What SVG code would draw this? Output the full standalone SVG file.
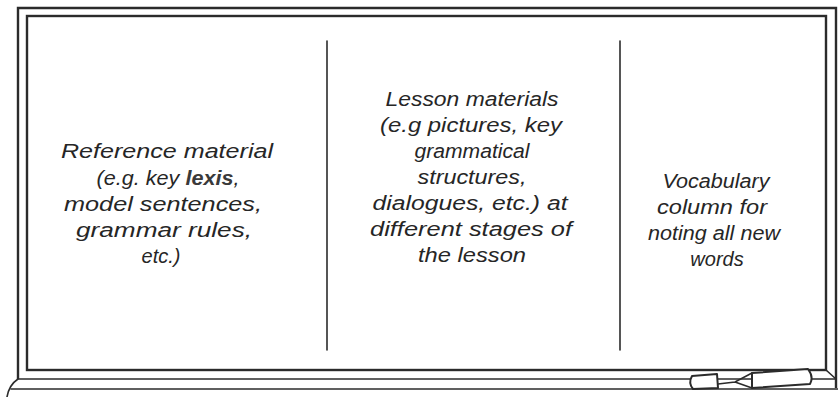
<svg xmlns="http://www.w3.org/2000/svg" width="838" height="397" viewBox="0 0 838 397">
  <style>
    .frame { fill: none; stroke: #2b2b2b; stroke-width: 2.4; }
    .line { fill: none; stroke: #2b2b2b; stroke-width: 1.6; stroke-linecap: round; }
    .pen { fill: #ffffff; stroke: #2b2b2b; stroke-width: 2; stroke-linejoin: round; }
    .hand { font-family: "Liberation Sans", "DejaVu Sans", sans-serif; font-style: italic; font-size: 20px; fill: #262626; text-anchor: middle; }
    .bold { font-weight: bold; fill: #3a3a3a; }
  </style>

  <rect x="0" y="0" width="838" height="397" fill="#ffffff"/>

  <!-- whiteboard frame: outer and inner border -->
  <g id="board">
    <path class="frame" d="M18 379 L18 8 L836 8 L836 388"/>
    <rect class="frame" x="27" y="16" width="799" height="354"/>
    <path class="line" d="M826 370 L836 379"/>
    <path class="line" d="M18 379 L836 379"/>
  </g>

  <!-- pen ledge along the bottom -->
  <g id="ledge">
    <path class="line" d="M7 397 Q9 385 18 379"/>
    <path class="line" d="M11 389 L838 389"/>
  </g>

  <!-- column dividers -->
  <g id="dividers">
    <line class="line" x1="327" y1="41" x2="327" y2="350"/>
    <line class="line" x1="620" y1="41" x2="620" y2="350"/>
  </g>

  <!-- left column -->
  <g id="reference-column">
    <text class="hand" x="167" y="158" textLength="212" lengthAdjust="spacingAndGlyphs">Reference material</text>
    <text class="hand" x="168" y="185" textLength="143" lengthAdjust="spacingAndGlyphs">(e.g. key <tspan class="bold">lexis</tspan>,</text>
    <text class="hand" x="163" y="211" textLength="198" lengthAdjust="spacingAndGlyphs">model sentences,</text>
    <text class="hand" x="164" y="237" textLength="176" lengthAdjust="spacingAndGlyphs">grammar rules,</text>
    <text class="hand" x="161" y="263">etc.)</text>
  </g>

  <!-- middle column -->
  <g id="lesson-column">
    <text class="hand" x="472" y="106" textLength="173" lengthAdjust="spacingAndGlyphs">Lesson materials</text>
    <text class="hand" x="471" y="132" textLength="182" lengthAdjust="spacingAndGlyphs">(e.g pictures, key</text>
    <text class="hand" x="472" y="158" textLength="115" lengthAdjust="spacingAndGlyphs">grammatical</text>
    <text class="hand" x="472" y="184" textLength="109" lengthAdjust="spacingAndGlyphs">structures,</text>
    <text class="hand" x="470" y="210" textLength="195" lengthAdjust="spacingAndGlyphs">dialogues, etc.) at</text>
    <text class="hand" x="471" y="236" textLength="202" lengthAdjust="spacingAndGlyphs">different stages of</text>
    <text class="hand" x="472" y="262" textLength="108" lengthAdjust="spacingAndGlyphs">the lesson</text>
  </g>

  <!-- right column -->
  <g id="vocabulary-column">
    <text class="hand" x="716" y="188" textLength="107" lengthAdjust="spacingAndGlyphs">Vocabulary</text>
    <text class="hand" x="712" y="214" textLength="110" lengthAdjust="spacingAndGlyphs">column for</text>
    <text class="hand" x="714" y="240" textLength="132" lengthAdjust="spacingAndGlyphs">noting all new</text>
    <text class="hand" x="717" y="266">words</text>
  </g>

  <!-- marker lying on the ledge: cap, tip and barrel -->
  <g id="marker">
    <path class="pen" d="M692 376 L717 374 L718 388 L693 389 Q688 383 692 376 Z"/>
    <path class="line" stroke-width="2" d="M718 384 L735 382 L752 373 M735 382 L752 388"/>
    <path class="pen" d="M752 373 L808 369 Q814 377 810 384 L752 388 Z"/>
  </g>
</svg>
